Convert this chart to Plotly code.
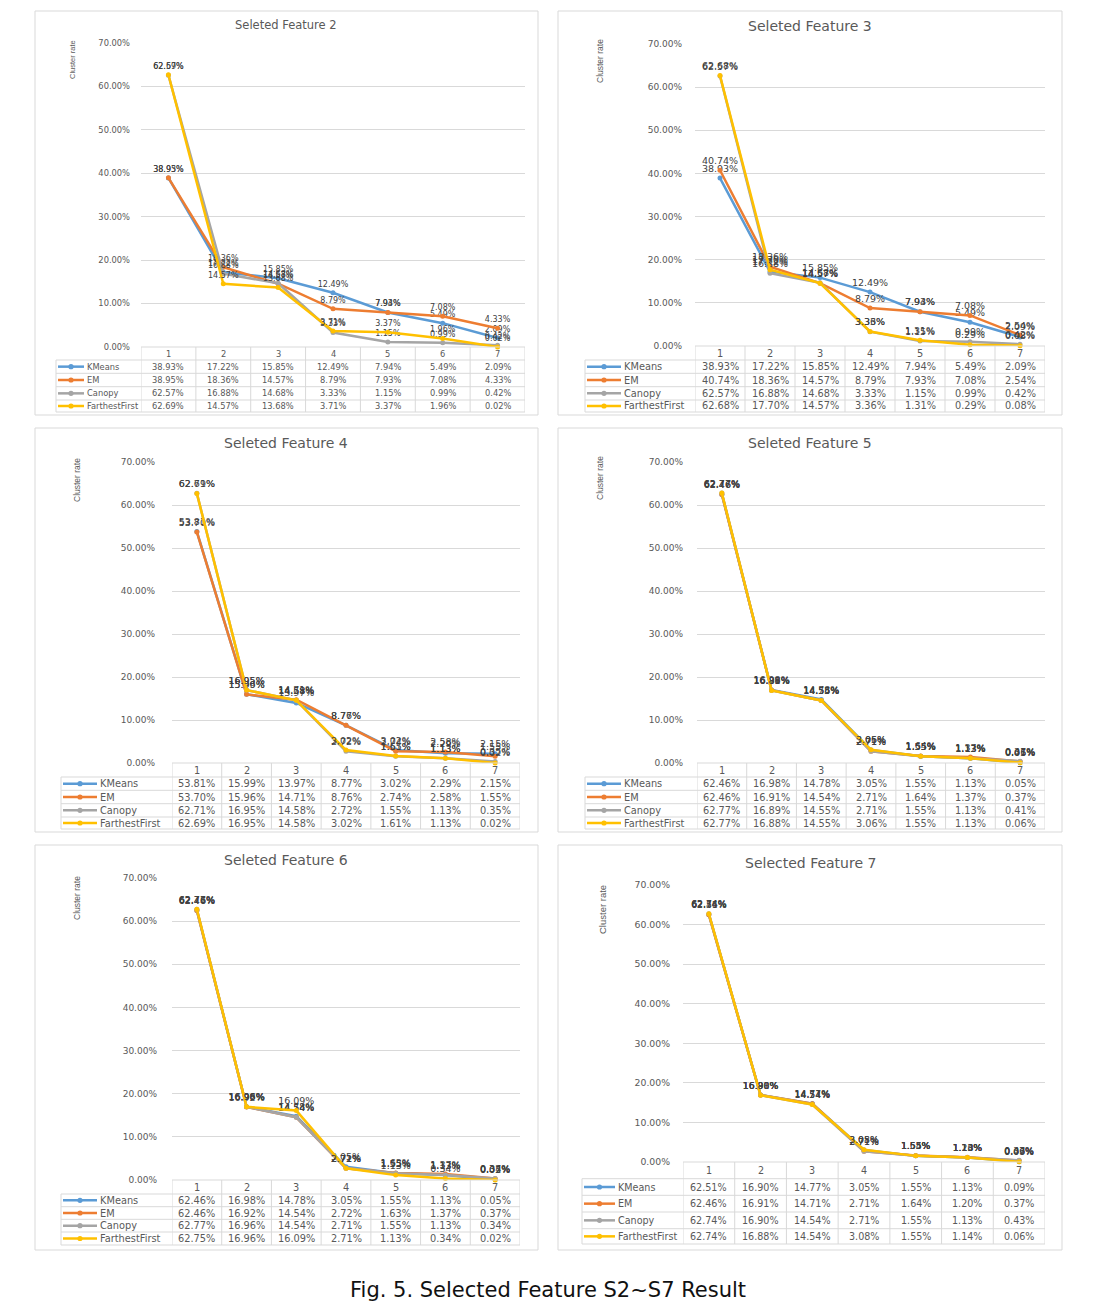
import plotly.graph_objects as go

W, H = 1099, 1314

categories = [1, 2, 3, 4, 5, 6, 7]
series_names = ["KMeans", "EM", "Canopy", "FarthestFirst"]
colors = ["#5B9BD5", "#ED7D31", "#A5A5A5", "#FFC000"]
titles = ["Seleted Feature 2", "Seleted Feature 3", "Seleted Feature 4",
          "Seleted Feature 5", "Seleted Feature 6", "Selected Feature 7"]
y_ticks = [0, 10, 20, 30, 40, 50, 60, 70]

f2_kmeans = [38.93, 17.22, 15.85, 12.49, 7.94, 5.49, 2.09]
f2_em = [38.95, 18.36, 14.57, 8.79, 7.93, 7.08, 4.33]
f2_canopy = [62.57, 16.88, 14.68, 3.33, 1.15, 0.99, 0.42]
f2_ff = [62.69, 14.57, 13.68, 3.71, 3.37, 1.96, 0.02]

f3_kmeans = [38.93, 17.22, 15.85, 12.49, 7.94, 5.49, 2.09]
f3_em = [40.74, 18.36, 14.57, 8.79, 7.93, 7.08, 2.54]
f3_canopy = [62.57, 16.88, 14.68, 3.33, 1.15, 0.99, 0.42]
f3_ff = [62.68, 17.70, 14.57, 3.36, 1.31, 0.29, 0.08]

f4_kmeans = [53.81, 15.99, 13.97, 8.77, 3.02, 2.29, 2.15]
f4_em = [53.70, 15.96, 14.71, 8.76, 2.74, 2.58, 1.55]
f4_canopy = [62.71, 16.95, 14.58, 2.72, 1.55, 1.13, 0.35]
f4_ff = [62.69, 16.95, 14.58, 3.02, 1.61, 1.13, 0.02]

f5_kmeans = [62.46, 16.98, 14.78, 3.05, 1.55, 1.13, 0.05]
f5_em = [62.46, 16.91, 14.54, 2.71, 1.64, 1.37, 0.37]
f5_canopy = [62.77, 16.89, 14.55, 2.71, 1.55, 1.13, 0.41]
f5_ff = [62.77, 16.88, 14.55, 3.06, 1.55, 1.13, 0.06]

f6_kmeans = [62.46, 16.98, 14.78, 3.05, 1.55, 1.13, 0.05]
f6_em = [62.46, 16.92, 14.54, 2.72, 1.63, 1.37, 0.37]
f6_canopy = [62.77, 16.96, 14.54, 2.71, 1.55, 1.13, 0.34]
f6_ff = [62.75, 16.96, 16.09, 2.71, 1.13, 0.34, 0.02]

f7_kmeans = [62.51, 16.90, 14.77, 3.05, 1.55, 1.13, 0.09]
f7_em = [62.46, 16.91, 14.71, 2.71, 1.64, 1.20, 0.37]
f7_canopy = [62.74, 16.90, 14.54, 2.71, 1.55, 1.13, 0.43]
f7_ff = [62.74, 16.88, 14.54, 3.08, 1.55, 1.14, 0.06]

panel_data = [
    [f2_kmeans, f2_em, f2_canopy, f2_ff],
    [f3_kmeans, f3_em, f3_canopy, f3_ff],
    [f4_kmeans, f4_em, f4_canopy, f4_ff],
    [f5_kmeans, f5_em, f5_canopy, f5_ff],
    [f6_kmeans, f6_em, f6_canopy, f6_ff],
    [f7_kmeans, f7_em, f7_canopy, f7_ff],
]

# layout (pixel) configuration per panel
panels = [
    dict(box=(35, 11, 538, 415), plot=(141, 525), y70=43, y0=347,
         rows=(347, 360, 373.3, 386.7, 400, 412), tleft=56, key=26,
         title=(286, 25, 11.5), ytitle=(72, 60, 7.5), fs=8.3, tick=8.3, so=10),
    dict(box=(558, 11, 1062, 415), plot=(695, 1045), y70=44, y0=346,
         rows=(346, 360, 373.3, 386.7, 400, 412), tleft=585, key=34,
         title=(810, 26, 14), ytitle=(600, 61, 8.5), fs=9.8, tick=9, so=12),
    dict(box=(35, 428, 538, 832), plot=(172, 520), y70=462, y0=763,
         rows=(763, 777, 790.3, 803.7, 817, 829), tleft=61, key=34,
         title=(286, 443, 14), ytitle=(77, 480, 8.5), fs=9.8, tick=9, so=16),
    dict(box=(558, 428, 1062, 832), plot=(697, 1045), y70=462, y0=763,
         rows=(763, 777, 790.3, 803.7, 817, 829), tleft=585, key=34,
         title=(810, 443, 14), ytitle=(600, 478, 8.5), fs=9.8, tick=9, so=13),
    dict(box=(35, 845, 538, 1250), plot=(172, 520), y70=878, y0=1180,
         rows=(1180, 1194, 1206.7, 1219.3, 1232, 1245), tleft=61, key=34,
         title=(286, 860, 14), ytitle=(77, 898, 8.5), fs=9.8, tick=9, so=14),
    dict(box=(558, 845, 1062, 1250), plot=(683, 1045), y70=885, y0=1162,
         rows=(1162, 1178.7, 1195.3, 1212, 1228.7, 1244), tleft=582, key=31,
         title=(810, 863, 14), ytitle=(602, 910, 9.5), fs=9.6, tick=9.3, so=12),
]

FONT = "DejaVu Sans"
GRID = "#D9D9D9"
TXT = "#595959"


def px(x):
    return x / W


def py(y):
    return 1 - y / H


fig = go.Figure()
shapes = []
annotations = []
layout_axes = {}

for i, (cfg, data) in enumerate(zip(panels, panel_data)):
    n = i + 1
    xa = "x" if n == 1 else f"x{n}"
    ya = "y" if n == 1 else f"y{n}"
    xkey = "xaxis" if n == 1 else f"xaxis{n}"
    ykey = "yaxis" if n == 1 else f"yaxis{n}"
    pl, pr = cfg["plot"]
    layout_axes[xkey] = dict(domain=[px(pl), px(pr)], range=[0.5, 7.5],
                             showgrid=False, zeroline=False, showticklabels=False,
                             showline=False, anchor=ya, fixedrange=True, automargin=False)
    layout_axes[ykey] = dict(domain=[py(cfg["y0"]), py(cfg["y70"])], range=[0, 70],
                             tickvals=y_ticks, ticktext=[f"{v:.2f}%" for v in y_ticks],
                             showgrid=True, gridcolor=GRID, gridwidth=1, zeroline=False,
                             showline=False, anchor=xa, ticks="", automargin=False,
                             ticklabelstandoff=cfg["so"],
                             tickfont=dict(family=FONT, size=cfg["tick"], color=TXT),
                             fixedrange=True)

    for s, (name, col, vals) in enumerate(zip(series_names, colors, data)):
        fig.add_trace(go.Scatter(
            x=categories, y=vals, mode="lines+markers+text", name=name,
            line=dict(color=col, width=2.5), marker=dict(color=col, size=5),
            text=[f"{v:.2f}%" for v in vals], textposition="top center",
            textfont=dict(family=FONT, size=cfg["fs"] - 0.3, color="#404040"),
            cliponaxis=False, showlegend=False, xaxis=xa, yaxis=ya,
            hoverinfo="skip"))

    bx0, by0, bx1, by1 = cfg["box"]
    shapes.append(dict(type="rect", xref="paper", yref="paper",
                       x0=px(bx0), x1=px(bx1), y0=py(by0), y1=py(by1),
                       line=dict(color=GRID, width=1)))

    tx, ty, tfs = cfg["title"]
    annotations.append(dict(text=titles[i], xref="paper", yref="paper",
                            x=px(tx), y=py(ty), showarrow=False,
                            xanchor="center", yanchor="middle",
                            font=dict(family=FONT, size=tfs, color=TXT)))
    ax_, ay_, afs = cfg["ytitle"]
    annotations.append(dict(text="Cluster rate", xref="paper", yref="paper",
                            x=px(ax_), y=py(ay_), showarrow=False, textangle=-90,
                            xanchor="center", yanchor="middle",
                            font=dict(family="Liberation Sans", size=afs, color=TXT)))

    # data table
    rows = cfg["rows"]
    tleft = cfg["tleft"]
    shapes.append(dict(type="line", xref="paper", yref="paper", x0=px(pl), x1=px(pr),
                       y0=py(rows[0]), y1=py(rows[0]), line=dict(color=GRID, width=1)))
    for r in rows[1:]:
        shapes.append(dict(type="line", xref="paper", yref="paper", x0=px(tleft), x1=px(pr),
                           y0=py(r), y1=py(r), line=dict(color=GRID, width=1)))
    for b in [c - 0.5 for c in categories] + [categories[-1] + 0.5]:
        shapes.append(dict(type="line", xref=xa, yref="paper", x0=b, x1=b,
                           y0=py(rows[0]), y1=py(rows[-1]), line=dict(color=GRID, width=1)))
    shapes.append(dict(type="line", xref="paper", yref="paper", x0=px(tleft), x1=px(tleft),
                       y0=py(rows[1]), y1=py(rows[-1]), line=dict(color=GRID, width=1)))
    hy = (rows[0] + rows[1]) / 2
    for c in categories:
        annotations.append(dict(text=str(c), xref=xa, yref="paper", x=c, y=py(hy),
                                showarrow=False, xanchor="center", yanchor="middle",
                                font=dict(family=FONT, size=cfg["fs"], color=TXT)))
    for s, (name, col, vals) in enumerate(zip(series_names, colors, data)):
        ry = (rows[s + 1] + rows[s + 2]) / 2
        k0 = tleft + 2
        k1 = tleft + 2 + cfg["key"]
        shapes.append(dict(type="line", xref="paper", yref="paper", x0=px(k0), x1=px(k1),
                           y0=py(ry), y1=py(ry), line=dict(color=col, width=2.5)))
        km = (k0 + k1) / 2
        shapes.append(dict(type="circle", xref="paper", yref="paper",
                           x0=px(km - 2.6), x1=px(km + 2.6), y0=py(ry + 2.6), y1=py(ry - 2.6),
                           fillcolor=col, line=dict(color=col, width=0)))
        annotations.append(dict(text=name, xref="paper", yref="paper", x=px(k1 + 1), y=py(ry),
                                xanchor="left", yanchor="middle", showarrow=False,
                                font=dict(family=FONT, size=cfg["fs"], color=TXT)))
        for c, v in zip(categories, vals):
            annotations.append(dict(text=f"{v:.2f}%", xref=xa, yref="paper", x=c, y=py(ry),
                                    showarrow=False, xanchor="center", yanchor="middle",
                                    font=dict(family=FONT, size=cfg["fs"], color=TXT)))

annotations.append(dict(text="Fig. 5. Selected Feature S2~S7 Result", xref="paper", yref="paper",
                        x=px(548), y=py(1290), showarrow=False,
                        xanchor="center", yanchor="middle",
                        font=dict(family=FONT, size=21, color="#111111")))

fig.update_layout(width=W, height=H, margin=dict(l=0, r=0, t=0, b=0, pad=0),
                  paper_bgcolor="white", plot_bgcolor="white",
                  shapes=shapes, annotations=annotations, **layout_axes)

fig.write_html("out.html", config={"displayModeBar": False},
               post_script="document.documentElement.style.margin='0';document.body.style.margin='0';"
                           "document.body.style.overflow='hidden';document.documentElement.style.overflow='hidden';")
